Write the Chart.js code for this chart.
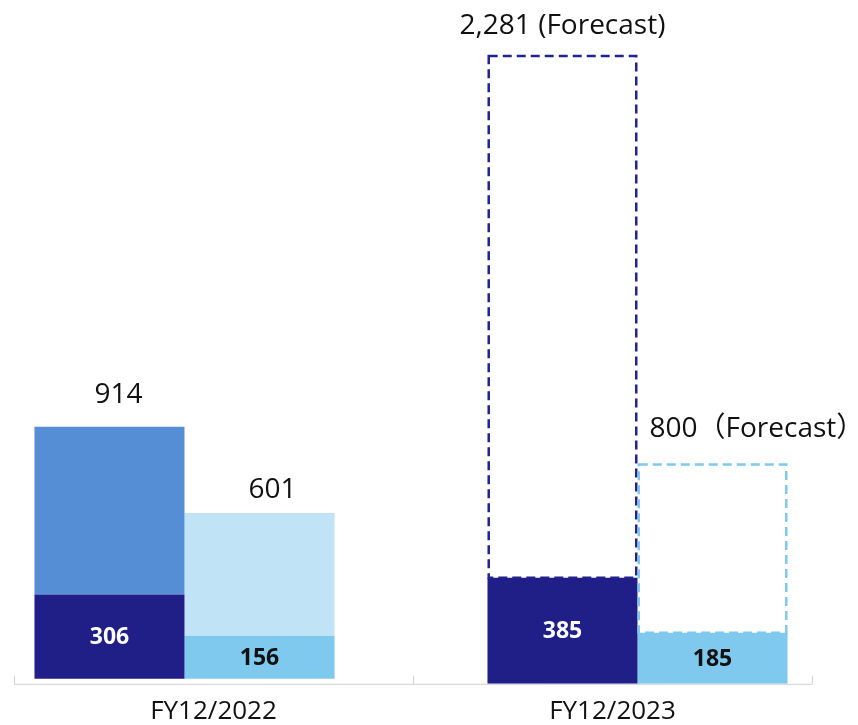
<!DOCTYPE html>
<html>
<head>
<meta charset="utf-8">
<script src="https://cdn.jsdelivr.net/npm/chart.js@4/dist/chart.umd.min.js"></script>
<style>
  html, body { margin: 0; padding: 0; background: #fff; }
  #wrap { width: 858px; height: 725px; }
</style>
</head>
<body>
<div id="wrap"><canvas id="chart" width="858" height="725"></canvas></div>
<script>
const years = ['FY12/2022', 'FY12/2023'];

// left column of each year
const actualA = [306, 385];
const totalA = [914, null];
const forecastA = [null, 2281];

// right column of each year
const actualB = [156, 185];
const totalB = [601, null];
const forecastB = [null, 800];

const forecastSuffix = [' (Forecast)', '\uFF08Forecast\uFF09'];

const NAVY = '#1F1F87';
const MID = '#558ED5';
const PALE = '#C0E3F5';
const SKY = '#7FC8EE';
const FONT = "'Open Sans', 'Noto Sans CJK JP', sans-serif";

const minus = (tot, base) => tot.map((v, i) => (v == null ? null : v - base[i]));

// per-year shift of the bar pairs
const groupNudge = [{ dx: -29, dy: -5 }, { dx: 25, dy: 0 }];

const barPlugin = {
  id: 'barDecor',
  afterDatasetsUpdate(chart) {
    chart.data.datasets.forEach((ds, i) => {
      chart.getDatasetMeta(i).data.forEach((el, j) => {
        el.x += groupNudge[j].dx;
        el.y += groupNudge[j].dy;
        el.base += groupNudge[j].dy;
      });
    });
  },
  beforeDatasetsDraw(chart) {
    const { ctx, chartArea } = chart;
    const step = (chartArea.right - chartArea.left) / years.length;
    ctx.save();
    ctx.strokeStyle = '#D0D0D0';
    ctx.lineWidth = 1;
    ctx.beginPath();
    ctx.moveTo(chartArea.left, chartArea.bottom + 0.5);
    ctx.lineTo(chartArea.right, chartArea.bottom + 0.5);
    for (let k = 0; k <= years.length; k++) {
      const px = Math.round(chartArea.left + k * step) + 0.5;
      ctx.moveTo(px, chartArea.bottom - 8);
      ctx.lineTo(px, chartArea.bottom);
    }
    ctx.stroke();
    ctx.restore();
  },
  afterDatasetsDraw(chart) {
    const { ctx } = chart;
    ctx.save();
    chart.data.datasets.forEach((ds, i) => {
      const meta = chart.getDatasetMeta(i);
      meta.data.forEach((el, j) => {
        const v = ds.data[j];
        if (v == null) return;
        const p = el.getProps(['x', 'y', 'base', 'width'], true);
        const left = p.x - p.width / 2;

        if (ds.dashColor) {
          ctx.setLineDash([9, 5]);
          ctx.lineWidth = 2.5;
          ctx.strokeStyle = ds.dashColor;
          ctx.strokeRect(left + 1.25, p.y + 1.25, p.width - 2.5, p.base - p.y - 1.25);
          ctx.setLineDash([]);
        }

        if (ds.inner) {
          ctx.font = 'bold 23px ' + FONT;
          ctx.fillStyle = ds.inner;
          ctx.textAlign = 'center';
          ctx.textBaseline = 'middle';
          ctx.fillText(String(v), p.x, (p.y + p.base) / 2 + 1);
        }

        if (ds.top) {
          const src = ds.top.values[j];
          let txt = src.toLocaleString('en-US');
          if (ds.top.suffix) txt += ds.top.suffix;
          ctx.font = '28px ' + FONT;
          ctx.fillStyle = '#111';
          ctx.textBaseline = 'alphabetic';
          ctx.textAlign = ds.top.align || 'center';
          const tx = ds.top.align === 'left' ? left + ds.top.dx : p.x + ds.top.dx;
          ctx.fillText(txt, tx, p.y - ds.top.gap);
        }
      });
    });
    ctx.restore();
  }
};

new Chart(document.getElementById('chart'), {
  type: 'bar',
  data: {
    labels: years,
    datasets: [
      { data: actualA, stack: 'a', backgroundColor: NAVY, inner: '#fff' },
      { data: minus(totalA, actualA), stack: 'a', backgroundColor: MID,
        top: { values: totalA, dx: 9, gap: 24 } },
      { data: minus(forecastA, actualA), stack: 'a', backgroundColor: '#fff', dashColor: '#23238E',
        top: { values: forecastA, suffix: forecastSuffix[0], dx: 0, gap: 21 } },
      { data: actualB, stack: 'b', backgroundColor: SKY, inner: '#111' },
      { data: minus(totalB, actualB), stack: 'b', backgroundColor: PALE,
        top: { values: totalB, dx: 13, gap: 15 } },
      { data: minus(forecastB, actualB), stack: 'b', backgroundColor: '#fff', dashColor: SKY,
        top: { values: forecastB, suffix: forecastSuffix[1], align: 'left', dx: 12, gap: 26 } }
    ]
  },
  options: {
    responsive: false,
    animation: false,
    events: [],
    layout: { padding: { left: 14, right: 46, top: 0, bottom: -14 } },
    datasets: { bar: { categoryPercentage: 0.752, barPercentage: 1, borderWidth: 0 } },
    plugins: { legend: { display: false }, tooltip: { enabled: false } },
    scales: {
      x: {
        stacked: true,
        grid: { display: false, drawTicks: false },
        border: { display: false },
        ticks: { padding: 12, color: '#111', font: { family: FONT, size: 26 } }
      },
      y: { stacked: true, display: false, min: 0, max: 2480 }
    }
  },
  plugins: [barPlugin]
});
</script>
</body>
</html>
